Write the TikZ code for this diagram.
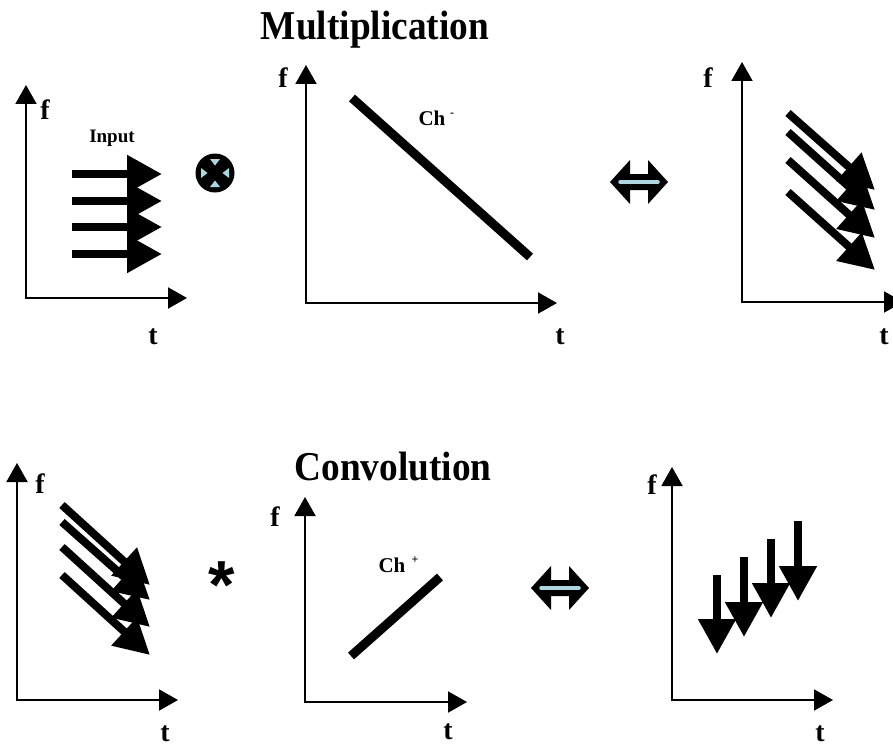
\documentclass[tikz,border=0pt]{standalone}
\usepackage{fontspec}
\setmainfont{Liberation Serif}
\newfontfamily\starfont{Liberation Sans}
\usetikzlibrary{arrows.meta}
\definecolor{lblue}{RGB}{170,216,226}
\begin{document}
\begin{tikzpicture}[x=1pt,y=-1pt,
  axis/.style={line width=2pt,{Triangle[length=19pt,width=21pt]}-{Triangle[length=19pt,width=21pt]}},
  fat/.style={line width=8pt,-{Triangle[length=35pt,width=36pt]}},
  chline/.style={line width=9pt},
  lbl/.style={font=\fontsize{28}{30}\selectfont\bfseries, inner sep=0pt},
  ttl/.style={font=\fontsize{41}{44}\selectfont\bfseries, inner sep=0pt, anchor=base},
  chlbl/.style={font=\fontsize{21}{22}\selectfont\bfseries, inner sep=0pt},
  sup/.style={font=\fontsize{12}{12}\selectfont\bfseries, inner sep=0pt},
  dblarrow/.pic={
    \fill[black] (-29,0) -- (-9,-22) -- (-9,-8) -- (9,-8) -- (9,-22) -- (29,0)
      -- (9,22) -- (9,8) -- (-9,8) -- (-9,22) -- cycle;
    \draw[lblue, line width=3.5pt, line cap=round] (-19,0) -- (19,0);
  },
  otimes/.pic={
    \fill[black] (0,0) circle (19.5);
    \fill[lblue] (-5,-14) -- (5,-14) -- (0,-7.5) -- cycle;
    \fill[lblue] (-5,14) -- (5,14) -- (0,7.5) -- cycle;
    \fill[lblue] (-14,-5) -- (-14,5) -- (-7.5,0) -- cycle;
    \fill[lblue] (14,-5) -- (14,5) -- (7.5,0) -- cycle;
  }
]
\clip (0,0) rectangle (893,749);
\fill[white] (0,0) rectangle (893,749);

% titles
\node[ttl] (mul) at (375,40) {\scalebox{0.91}[1]{Multiplication}};
\node[ttl] (conv) at (393,480) {\scalebox{0.91}[1]{Convolution}};

% ---------- Panel 1 : input ----------
\coordinate (o1) at (26,298);
\coordinate (v1) at (26,85);
\coordinate (h1) at (187,298);
\draw[axis] (v1) -- (o1) -- (h1);
\node[lbl] (f1) at (45,110) {f};
\node[lbl] (t1) at (153,337) {t};
\node[font=\fontsize{19}{20}\selectfont\bfseries, inner sep=0pt] (input) at (112,138) {Input};
\foreach \y [count=\i] in {174,201,227,254}{
  \coordinate (ia\i) at (72,\y);
  \coordinate (ib\i) at (162,\y);
  \draw[fat] (ia\i) -- (ib\i);
}
\pic at (215,173) {otimes};

% ---------- Panel 2 : Ch- ----------
\coordinate (o2) at (306,303);
\coordinate (v2) at (306,65);
\coordinate (h2) at (557,303);
\draw[axis] (v2) -- (o2) -- (h2);
\node[lbl] (f2) at (283,78) {f};
\node[lbl] (t2) at (560,337) {t};
\coordinate (cm1) at (352,98);
\coordinate (cm2) at (530,257);
\draw[chline] (cm1) -- (cm2);
\node[chlbl] (chm) at (432,118) {Ch};
\node[sup] (chms) at (452,115) {-};

\pic at (639,182) {dblarrow};

% ---------- Panel 3 : product ----------
\coordinate (o3) at (742,302);
\coordinate (v3) at (742,62);
\coordinate (h3) at (903,302);
\draw[axis] (v3) -- (o3) -- (h3);
\node[lbl] (f3) at (708,78) {f};
\node[lbl] (t3) at (884,337) {t};
\foreach \ys/\ye [count=\i] in {113/190,132/210,160/238,192/270}{
  \coordinate (pa\i) at (788,\ys);
  \coordinate (pb\i) at (875,\ye);
  \draw[fat] (pa\i) -- (pb\i);
}

% ---------- Panel 4 ----------
\coordinate (o4) at (17,700);
\coordinate (v4) at (17,463);
\coordinate (h4) at (178,700);
\draw[axis] (v4) -- (o4) -- (h4);
\node[lbl] (f4) at (40,484) {f};
\node[lbl] (t4) at (165,734) {t};
\foreach \ys/\ye [count=\i] in {505/585,522/600,547/627,575/655}{
  \coordinate (qa\i) at (62,\ys);
  \coordinate (qb\i) at (150,\ye);
  \draw[fat] (qa\i) -- (qb\i);
}
\node[font=\starfont\bfseries\fontsize{68}{68}\selectfont, inner sep=0pt, anchor=base] (star) at (222,608) {*};

% ---------- Panel 5 : Ch+ ----------
\coordinate (o5) at (305,702);
\coordinate (v5) at (305,497);
\coordinate (h5) at (467,702);
\draw[axis] (v5) -- (o5) -- (h5);
\node[lbl] (f5) at (275,517) {f};
\node[lbl] (t5) at (448,732) {t};
\coordinate (cp1) at (351,656);
\coordinate (cp2) at (440,577);
\draw[chline] (cp1) -- (cp2);
\node[chlbl] (chp) at (392,565) {Ch};
\node[sup] (chps) at (415,560) {+};

\pic at (560,588) {dblarrow};

% ---------- Panel 6 : result ----------
\coordinate (o6) at (672,700);
\coordinate (v6) at (672,467);
\coordinate (h6) at (833,700);
\draw[axis] (v6) -- (o6) -- (h6);
\node[lbl] (f6) at (652,485) {f};
\node[lbl] (t6) at (820,734) {t};
\foreach \x/\ys/\ye [count=\i] in {717/575/654,744/557/637,771/539/618,798/521/601}{
  \coordinate (ra\i) at (\x,\ys);
  \coordinate (rb\i) at (\x,\ye);
  \draw[fat] (ra\i) -- (rb\i);
}
\end{tikzpicture}
\end{document}
